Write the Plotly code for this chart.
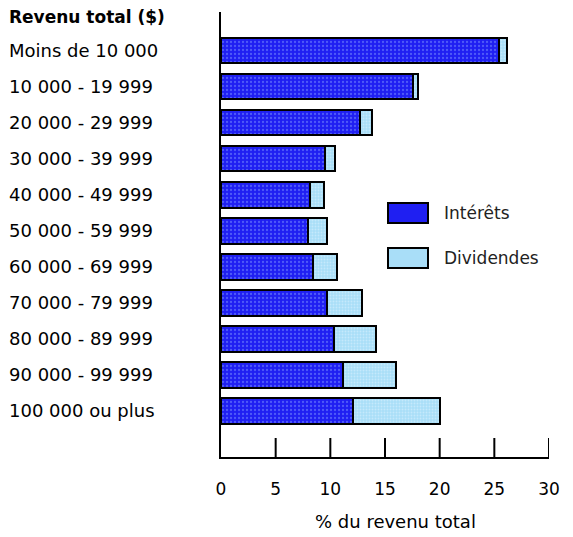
import plotly.graph_objects as go

# Income brackets (top to bottom)
categories = [
    "Moins de 10 000", "10 000 - 19 999", "20 000 - 29 999", "30 000 - 39 999",
    "40 000 - 49 999", "50 000 - 59 999", "60 000 - 69 999", "70 000 - 79 999",
    "80 000 - 89 999", "90 000 - 99 999", "100 000 ou plus",
]
# Share of total income (%)
interets = [25.4, 17.6, 12.7, 9.5, 8.1, 8.0, 8.4, 9.7, 10.3, 11.2, 12.1]
dividendes = [0.8, 0.4, 1.1, 0.9, 1.3, 1.7, 2.2, 3.2, 3.9, 4.8, 7.9]
x_ticks = [0, 5, 10, 15, 20, 25, 30]

FONT = "DejaVu Sans"
BLUE = "#1f1ff2"
LIGHT = "#a9def8"

fig = go.Figure()
fig.add_trace(go.Bar(
    y=categories, x=interets, orientation="h", name="Intérêts",
    marker=dict(color=BLUE, line=dict(color="black", width=2),
                pattern=dict(shape=".", fgcolor="#7d95ff", size=4, solidity=0.25,
                             fillmode="overlay")),
    width=0.7, showlegend=False,
))
fig.add_trace(go.Bar(
    y=categories, x=dividendes, orientation="h", name="Dividendes",
    marker=dict(color=LIGHT, line=dict(color="black", width=2),
                pattern=dict(shape=".", fgcolor="#e2f4ff", size=3, solidity=0.3,
                             fillmode="overlay")),
    width=0.7, showlegend=False,
))

L, R, T, B = 221, 24, 12, 80
W, H = 573, 537
pw, ph = W - L - R, H - T - B


def px_x(p):
    return (p - L) / pw


def px_y(p):
    return 1 - (p - T) / ph


annotations = []
for c in categories:
    annotations.append(dict(x=px_x(7), y=c, xref="paper", yref="y", text=c,
                            xanchor="left", yanchor="middle", showarrow=False,
                            font=dict(family=FONT, size=18, color="black")))
annotations.append(dict(x=px_x(7), y=px_y(17), xref="paper", yref="paper",
                        text="<b>Revenu total ($)</b>", xanchor="left",
                        yanchor="middle", showarrow=False,
                        font=dict(family=FONT, size=17, color="black")))
annotations.append(dict(x=px_x(395), y=px_y(521), xref="paper", yref="paper",
                        text="% du revenu total", xanchor="center",
                        yanchor="middle", showarrow=False,
                        font=dict(family=FONT, size=18, color="black")))

# Legend drawn as swatches + labels
legend_items = [("Intérêts", BLUE, 213), ("Dividendes", LIGHT, 258)]
shapes = []
for name, col, yc in legend_items:
    shapes.append(dict(type="rect", xref="paper", yref="paper",
                       x0=px_x(388), x1=px_x(428), y0=px_y(yc - 10), y1=px_y(yc + 10),
                       fillcolor=col, line=dict(color="black", width=2)))
    annotations.append(dict(x=px_x(442), y=px_y(yc), xref="paper", yref="paper",
                            text=name, xanchor="left", yanchor="middle",
                            showarrow=False,
                            font=dict(family=FONT, size=17, color="#222")))

# Inside tick marks rising from the x axis line
for v in x_ticks[1:]:
    shapes.append(dict(type="line", xref="x", yref="paper", x0=v, x1=v,
                       y0=0, y1=px_y(438), line=dict(color="black", width=2)))

fig.update_layout(
    width=W, height=H, barmode="stack",
    margin=dict(l=L, r=R, t=T, b=B),
    paper_bgcolor="white", plot_bgcolor="white",
    shapes=shapes, annotations=annotations,
    xaxis=dict(range=[0, 30], tickvals=x_ticks, ticks="", showline=True,
               linewidth=2, linecolor="black", showgrid=False, zeroline=False,
               ticklabelstandoff=16,
               tickfont=dict(family=FONT, size=17, color="black")),
    yaxis=dict(categoryorder="array", categoryarray=categories,
               range=[11.28, -1.08], showticklabels=False, ticks="",
               showline=True, linewidth=2, linecolor="black", showgrid=False,
               zeroline=False),
)

fig.write_html("out.html")
